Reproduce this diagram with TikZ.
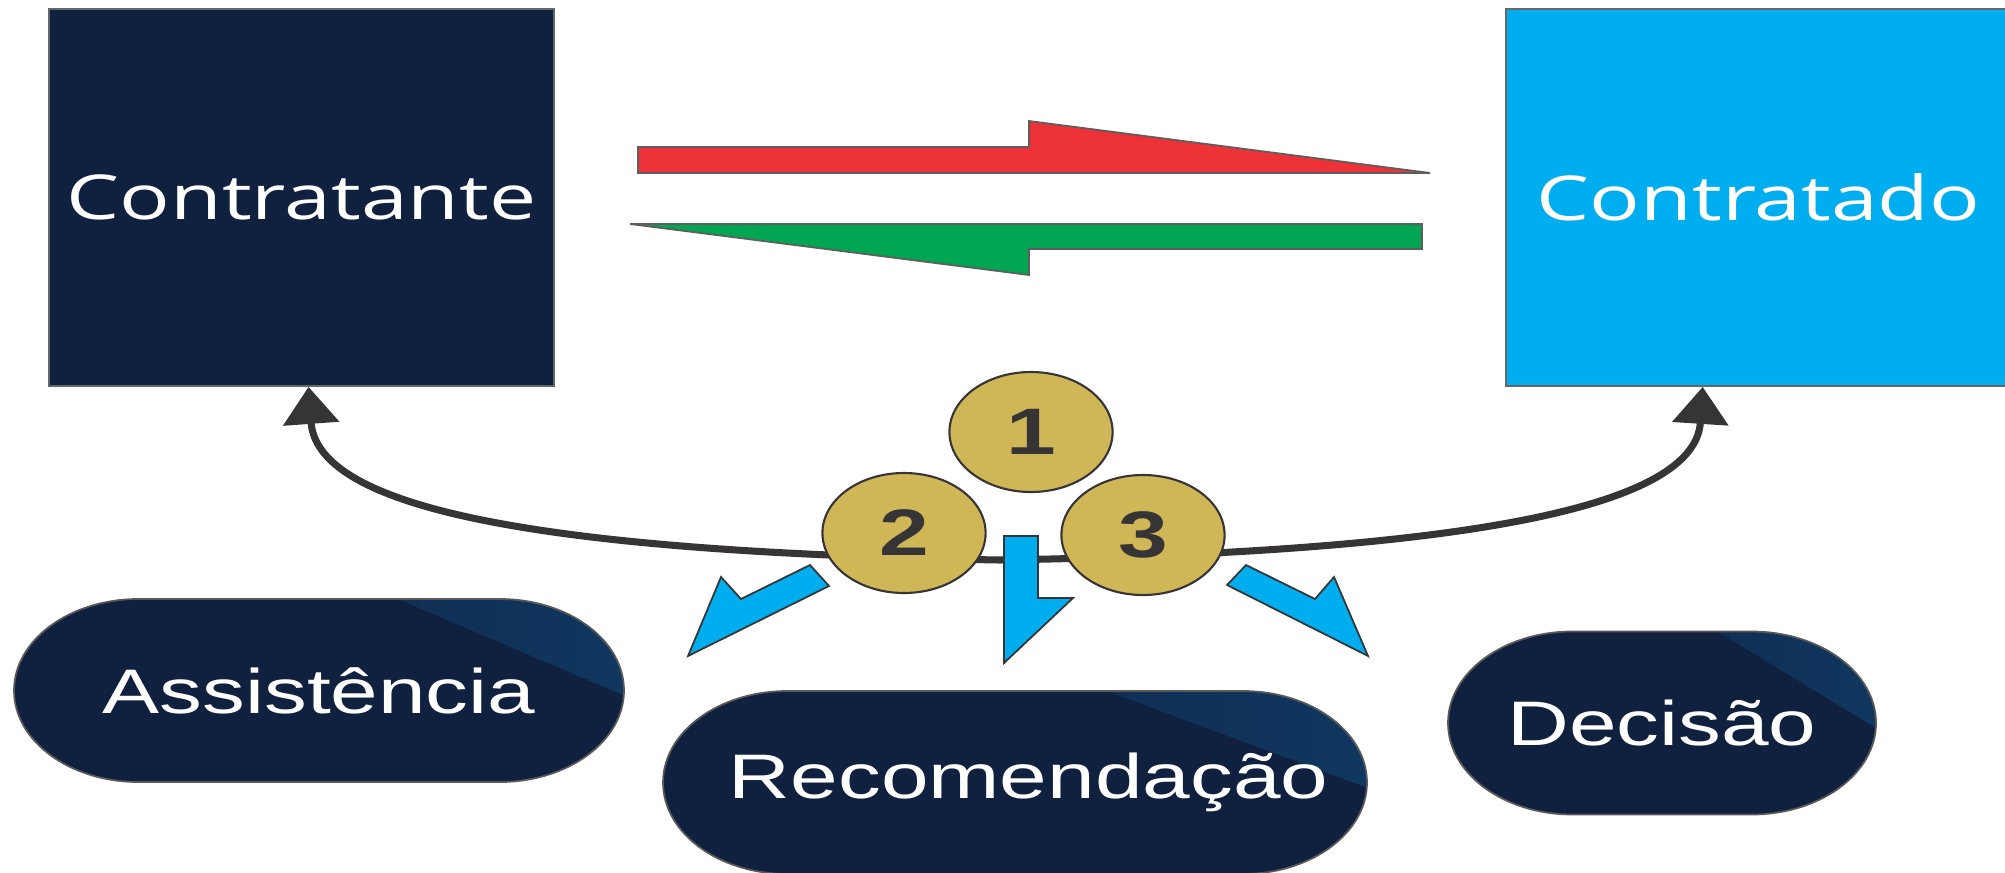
\documentclass[tikz,border=0pt]{standalone}
\usepackage{fontspec}
\setmainfont{Liberation Sans}
\newfontfamily\partyfont{Open Sans}
\usetikzlibrary{arrows.meta, calc, shapes.misc}
\definecolor{navyblue}{HTML}{10213F}
\definecolor{skyblue}{HTML}{00AEEF}
\definecolor{redarrow}{HTML}{ED3237}
\definecolor{greenarrow}{HTML}{00A651}
\definecolor{coingold}{HTML}{CFB657}
\definecolor{darkline}{HTML}{373435}
\definecolor{glossblue}{HTML}{103760}

\begin{document}
\begin{tikzpicture}[
  x=0.73529cm, y=1cm, xscale=1.36, transform shape,
  partybox/.style={rectangle, draw=gray!80!black, line width=0.5pt, minimum width=3.713cm, minimum height=3.77cm, text=white, font=\partyfont\fontsize{17.6}{20}\selectfont},
  flowarrow/.style={draw=darkline!80, line width=0.5pt},
  cycleline/.style={{Triangle[length=0.37cm,width=0.55cm]}-{Triangle[length=0.37cm,width=0.55cm]}, draw=darkline, line width=2pt},
  coin/.style={circle, draw=darkline, line width=0.6pt, fill=coingold, minimum size=1.2cm, inner sep=0pt, text=darkline, font=\bfseries\fontsize{18.7}{20}\selectfont},
  pointer/.style={draw=darkline, line width=0.5pt, fill=skyblue},
  pill/.style={rounded rectangle, draw=gray!70!black, line width=0.5pt, fill=navyblue, minimum height=1.83cm, inner sep=0pt, text=white, font=\fontsize{17.9}{20}\selectfont,
    path picture={\shade[left color=navyblue, right color=glossblue] ($(path picture bounding box.north west)!0.63!(path picture bounding box.north east)$) -- ($(path picture bounding box.east)+(0,-0.05)$) -- (path picture bounding box.north east) -- cycle;}}
]
  \clip (0,0) rectangle (20.05,-8.72);

  % the two parties
  \node[partybox, fill=navyblue] (cte) at (3.015,-1.975) {Contratante};
  \node[partybox, fill=skyblue] (ctd) at (17.585,-1.975) {Contratado};

  % exchange between them
  \draw[flowarrow, fill=redarrow] (6.38,-1.47) -- (10.29,-1.47) -- (10.29,-1.21) -- (14.30,-1.73) -- (6.38,-1.73) -- cycle;
  \draw[flowarrow, fill=greenarrow] (14.22,-2.24) -- (14.22,-2.49) -- (10.29,-2.49) -- (10.29,-2.75) -- (6.30,-2.24) -- cycle;

  % return path below
  \coordinate (low) at (10.0,-5.6);
  \draw[cycleline] ($(cte.south)+(0.07,0)$) .. controls (3.17,-5.05) and (5.2,-5.52) .. (low) .. controls (14.8,-5.52) and (16.95,-5.05) .. ($(ctd.south)+(-0.56,0)$);

  \node[coin] (n1) at (10.31,-4.32) {1};
  \node[coin] (n2) at (9.04,-5.33) {2};
  \node[coin] (n3) at (11.43,-5.35) {3};

  \draw[pointer] (8.10,-5.65) -- (7.41,-5.99) -- (7.21,-5.77) -- (6.88,-6.56) -- (8.29,-5.86) -- cycle;
  \draw[pointer] (10.04,-5.36) -- (10.38,-5.36) -- (10.38,-5.98) -- (10.73,-5.98) -- (10.04,-6.63) -- cycle;
  \draw[pointer] (12.46,-5.65) -- (13.15,-5.99) -- (13.34,-5.77) -- (13.68,-6.56) -- (12.27,-5.85) -- cycle;

  % outcomes
  \node[pill, minimum width=4.485cm] (assist) at (3.19,-6.905) {\makebox[0pt]{Assistência}};
  \node[pill, minimum width=5.176cm] (recom) at (10.15,-7.825) {\makebox[0pt]{\hspace{0.2cm}Recomendação}};
  \node[pill, minimum width=3.147cm] (decis) at (16.62,-7.23) {\makebox[0pt]{Decisão}};
\end{tikzpicture}
\end{document}
